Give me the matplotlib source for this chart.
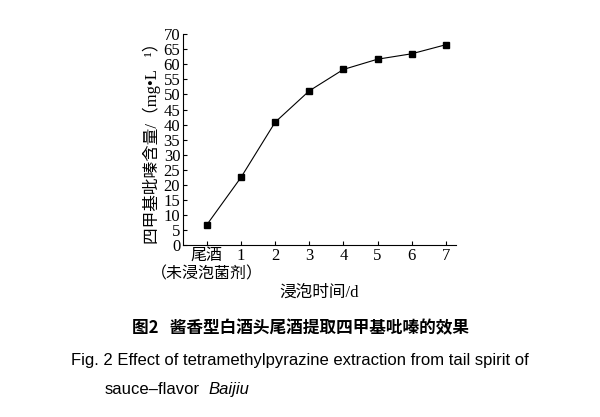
import matplotlib.pyplot as plt

categories = ["尾酒\n（未浸泡菌剂）", "1", "2", "3", "4", "5", "6", "7"]
values = [6.8, 22.5, 40.8, 51.2, 58.3, 61.7, 63.5, 66.5]
yticks = list(range(0, 75, 5))

fams = ["Liberation Serif", "Noto Sans CJK SC", "Noto Sans CJK JP", "Noto Sans CJK TC"]
sans = ["Liberation Sans", "Noto Sans CJK SC", "Noto Sans CJK JP"]
cjk = ["Noto Sans CJK SC", "Noto Sans CJK JP", "Liberation Serif"]
plt.rcParams["font.family"] = fams

fig = plt.figure(figsize=(6, 4.17), dpi=100)
ax = fig.add_axes([0.305, 0.412, 0.455, 0.506])
x = list(range(len(categories)))
ax.plot(x, values, color="black", lw=0.8, marker="s", ms=4)
ax.set_xlim(-0.7, 7.3)
ax.set_ylim(0, 70)
ax.set_yticks(yticks)
ax.set_xticks(x)
ax.set_xticklabels(categories, linespacing=1.2)
for i, lab in enumerate(ax.get_xticklabels()):
    lab.set_fontsize(12 if i else 11.5)
for lab in ax.get_yticklabels():
    lab.set_fontsize(12)
for s in ["top", "right"]:
    ax.spines[s].set_visible(False)
ax.tick_params(direction="in", length=3, width=0.8, pad=2)
ax.set_ylabel("四甲基吡嗪含量/（mg•L⁻¹）", fontsize=12, labelpad=2)
ax.set_xlabel("浸泡时间/d", fontsize=12, labelpad=2)

fig.text(0.5, 0.2, "图2   酱香型白酒头尾酒提取四甲基吡嗪的效果", ha="center",
         fontfamily=cjk, fontsize=12, fontweight="bold")
fig.text(0.5, 0.125, "Fig. 2 Effect of tetramethylpyrazine extraction from tail spirit of",
         ha="center", fontfamily=sans, fontsize=12)
fig.text(0.175, 0.055, "sauce\u2013flavor", ha="left", fontfamily=sans, fontsize=12)
fig.text(0.348, 0.055, "Baijiu", ha="left", fontfamily=sans, fontsize=12, style="italic")

fig.savefig("out.png", dpi=100)
